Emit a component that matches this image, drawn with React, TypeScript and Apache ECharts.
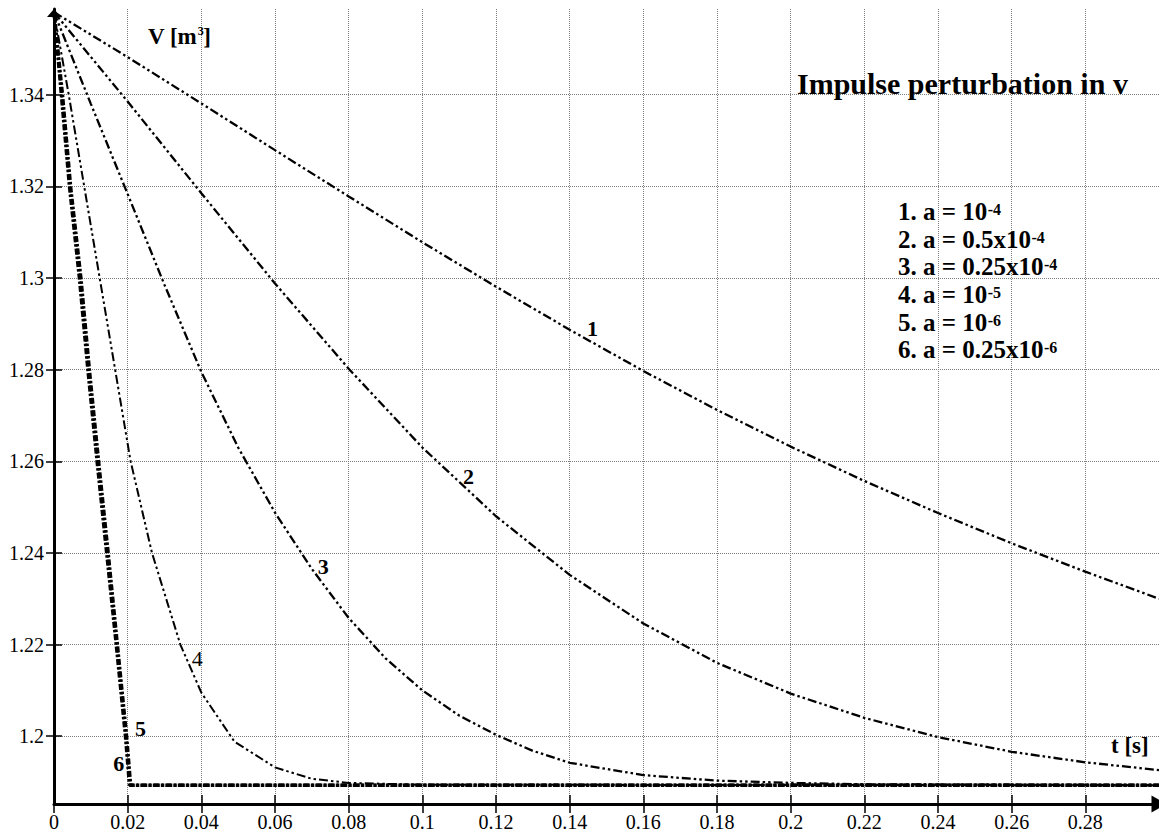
import React, { useEffect, useRef } from "react";
import * as echarts from "echarts";

// Axis tick positions
const tTicks = [0, 0.02, 0.04, 0.06, 0.08, 0.1, 0.12, 0.14, 0.16, 0.18, 0.2, 0.22, 0.24, 0.26, 0.28];
const vTicks = [1.2, 1.22, 1.24, 1.26, 1.28, 1.3, 1.32, 1.34];

// V(t) responses to the impulse, pairs of [t (s), V (m^3)]
const curve1 = [
  [0, 1.358], [0.02, 1.3482], [0.04, 1.3381], [0.06, 1.3279], [0.08, 1.3178], [0.1, 1.3078],
  [0.12, 1.2981], [0.14, 1.2887], [0.16, 1.2797], [0.18, 1.2712], [0.2, 1.2632], [0.22, 1.2557],
  [0.24, 1.2487], [0.26, 1.2421], [0.28, 1.2359], [0.3, 1.23],
];
const curve2 = [
  [0, 1.358], [0.02, 1.3385], [0.04, 1.3185], [0.06, 1.2988], [0.08, 1.2802], [0.1, 1.263],
  [0.12, 1.248], [0.14, 1.2352], [0.16, 1.2246], [0.18, 1.216], [0.2, 1.2093], [0.22, 1.204],
  [0.24, 1.1998], [0.26, 1.1966], [0.28, 1.1943], [0.3, 1.1926],
];
const curve3 = [
  [0, 1.358], [0.01, 1.338], [0.02, 1.3183], [0.03, 1.2985], [0.04, 1.2795], [0.05, 1.263],
  [0.06, 1.2488], [0.07, 1.2365], [0.08, 1.2258], [0.09, 1.217], [0.1, 1.21], [0.11, 1.2045],
  [0.12, 1.2003], [0.13, 1.1968], [0.14, 1.1942], [0.16, 1.1915], [0.18, 1.1903], [0.2, 1.1898],
  [0.22, 1.1895], [0.3, 1.1893],
];
const curve4 = [
  [0, 1.358], [0.004, 1.34], [0.0082, 1.32], [0.0124, 1.3], [0.0166, 1.28], [0.0208, 1.26],
  [0.0266, 1.24], [0.0343, 1.22], [0.04, 1.2095], [0.049, 1.1988], [0.06, 1.1932],
  [0.07, 1.1907], [0.08, 1.1898], [0.1, 1.1894], [0.3, 1.1893],
];
const curve5 = [
  [0, 1.358], [0.0023, 1.34], [0.0045, 1.32], [0.0073, 1.3], [0.0096, 1.28], [0.0121, 1.26],
  [0.0147, 1.24], [0.0172, 1.22], [0.0197, 1.2], [0.0208, 1.1893], [0.3, 1.1893],
];
const curve6 = [
  [0, 1.358], [0.002, 1.34], [0.0042, 1.32], [0.0069, 1.3], [0.0092, 1.28], [0.0117, 1.26],
  [0.0143, 1.24], [0.0169, 1.22], [0.0194, 1.2], [0.0205, 1.1893], [0.3, 1.1893],
];

const curveNames = ["1", "2", "3", "4", "5", "6"];
// where each curve number sits, in [t, V]
const tagAnchors = [
  [0.1462, 1.289], [0.1125, 1.2567], [0.0731, 1.237], [0.0389, 1.217], [0.0235, 1.2017], [0.0176, 1.194],
];
const legendLines = [
  ["1. a = 10", "-4"],
  ["2. a = 0.5x10", "-4"],
  ["3. a = 0.25x10", "-4"],
  ["4. a = 10", "-5"],
  ["5. a = 10", "-6"],
  ["6. a = 0.25x10", "-6"],
];

const SERIF = '"Liberation Serif", "Times New Roman", serif';
const DDOT = [9, 3, 2.5, 3, 2.5, 3];
const THICK = [6, 2, 2.5, 2];

const measureCtx = document.createElement("canvas").getContext("2d");
function textWidth(s: string, size: number, bold: boolean) {
  if (!measureCtx) return s.length * size * 0.5;
  measureCtx.font = `${bold ? "bold " : ""}${size}px ${SERIF}`;
  return measureCtx.measureText(s).width;
}

function txt(x: number, y: number, text: string, size: number, bold = true, align = "left") {
  return {
    type: "text",
    x,
    y,
    z: 10,
    style: {
      text,
      fontFamily: SERIF,
      fontSize: size,
      fontWeight: bold ? "bold" : "normal",
      fill: "#000",
      align,
      verticalAlign: "middle",
      textAlign: align,
      textVerticalAlign: "middle",
    },
  };
}

export default function App() {
  const ref = useRef<HTMLDivElement>(null);

  useEffect(() => {
    const chart = echarts.init(ref.current!, null, { renderer: "svg" });
    const curves = [curve1, curve2, curve3, curve4, curve5, curve6];
    const styles = [
      { width: 2.3, type: DDOT },
      { width: 2.3, type: DDOT },
      { width: 2.3, type: DDOT },
      { width: 2, type: DDOT },
      { width: 3.5, type: THICK },
      { width: 3.5, type: THICK },
    ];

    const tickLabel = { fontFamily: SERIF, fontSize: 20, color: "#000" };
    const gridLine = { show: true, lineStyle: { color: "#808080", width: 1, type: "dotted" } };

    chart.setOption({
      animation: false,
      backgroundColor: "#fff",
      grid: { left: 54, right: 0, top: 9, bottom: 28, containLabel: false, outerBoundsMode: "none" },
      xAxis: [
        {
          type: "value",
          min: 0,
          max: 0.3,
          position: "bottom",
          axisLine: {
            show: true,
            onZero: false,
            symbol: ["none", "triangle"],
            symbolSize: [17, 15],
            lineStyle: { color: "#000", width: 3 },
          },
          axisTick: { show: true, length: 9, customValues: tTicks, lineStyle: { color: "#000", width: 1.5 } },
          axisLabel: { ...tickLabel, margin: 8, customValues: tTicks, formatter: (v: number) => String(v) },
          splitLine: gridLine,
        },
        {
          type: "value",
          min: 0,
          max: 0.3,
          position: "bottom",
          axisLine: { show: false },
          axisTick: { show: true, inside: true, length: 9, customValues: tTicks, lineStyle: { color: "#000", width: 1.5 } },
          axisLabel: { show: false },
          splitLine: { show: false },
        },
      ],
      yAxis: [
        {
          type: "value",
          min: 1.1852,
          max: 1.3587,
          position: "left",
          axisLine: {
            show: true,
            onZero: false,
            symbol: ["none", "triangle"],
            symbolSize: [14, 8],
            symbolOffset: [0, -4],
            lineStyle: { color: "#000", width: 3 },
          },
          axisTick: { show: true, length: 8, customValues: vTicks, lineStyle: { color: "#000", width: 1.5 } },
          axisLabel: { ...tickLabel, margin: 10, customValues: vTicks, formatter: (v: number) => String(v) },
          splitLine: gridLine,
        },
        {
          type: "value",
          min: 1.1852,
          max: 1.3587,
          position: "left",
          axisLine: { show: false },
          axisTick: { show: true, inside: true, length: 8, customValues: vTicks, lineStyle: { color: "#000", width: 1.5 } },
          axisLabel: { show: false },
          splitLine: { show: false },
        },
      ],
      series: curves.map((data, i) => ({
        name: curveNames[i],
        type: "line",
        xAxisIndex: 0,
        yAxisIndex: 0,
        data,
        symbol: "none",
        showSymbol: false,
        smooth: false,
        lineStyle: { color: "#000", width: styles[i].width, type: styles[i].type, cap: "butt" },
        z: 5,
      })),
    });

    const graphics: any[] = [];
    graphics.push(txt(797, 83, "Impulse perturbation in v", 30));

    // V [m^3] axis caption
    graphics.push(txt(148, 36, "V [m", 23));
    const vw = textWidth("V [m", 23, true);
    graphics.push(txt(148 + vw + 0.5, 31, "3", 12));
    graphics.push(txt(148 + vw + 6, 36, "]", 23));

    // t [s] axis caption
    graphics.push(txt(1111, 745.5, "t [s]", 23));

    // legend block with exponents
    legendLines.forEach(([base, sup], i) => {
      const baseline = 220 + i * 27.6;
      graphics.push(txt(898, baseline - 8.4, base, 25));
      const w = textWidth(base, 25, true);
      graphics.push(txt(898 + w + 0.5, baseline - 10.4, sup, 16));
    });

    // curve numbers
    tagAnchors.forEach((p, i) => {
      const px = chart.convertToPixel({ xAxisIndex: 0, yAxisIndex: 0 }, p) as number[];
      graphics.push(txt(px[0], px[1], curveNames[i], 22, i !== 3, "center"));
    });

    chart.setOption({ graphic: graphics });

    return () => chart.dispose();
  }, []);

  return (
    <div
      ref={ref}
      style={{ position: "fixed", left: 0, top: 0, width: 1159, height: 832, background: "#fff" }}
    />
  );
}
